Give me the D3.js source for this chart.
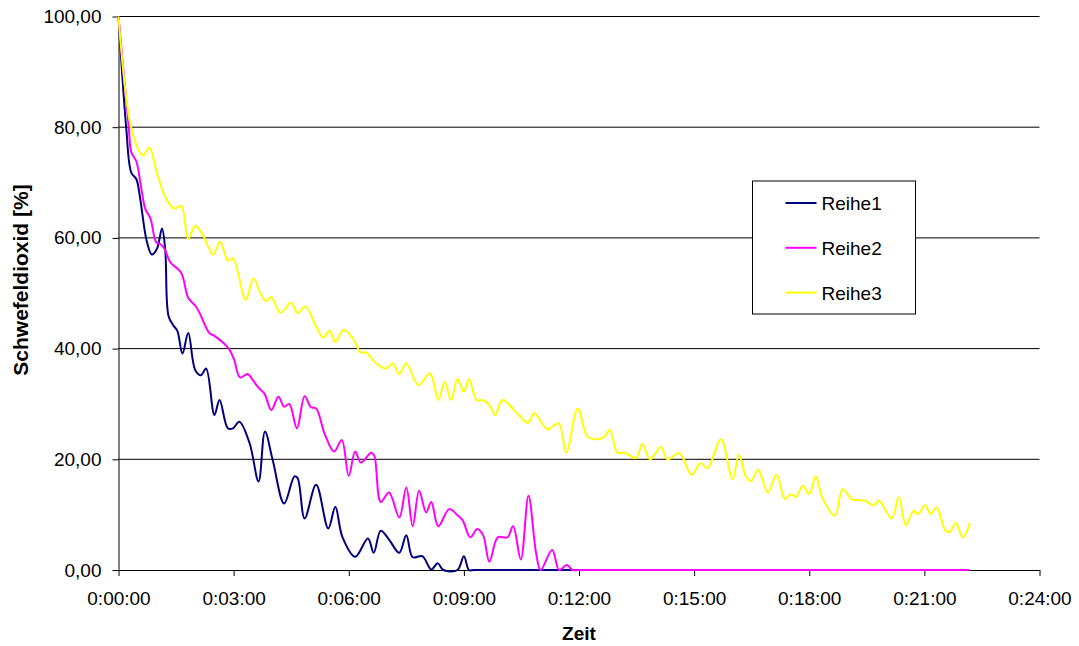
<!DOCTYPE html>
<html>
<head>
<meta charset="utf-8">
<script src="https://cdn.jsdelivr.net/npm/d3@7"></script>
<style>
    body { margin: 0; background: #fff; }
    svg { display: block; font-family: "Liberation Sans", Arial, sans-serif; }
    .tick text { font-size: 19px; fill: #000; }
    .axis-title { font-size: 19px; font-weight: bold; }
    .legend-text { font-size: 19px; }
</style>
</head>
<body>
<svg></svg>
<script>
// Zeit in Sekunden, Werte in %
let reihe1Zeit = [0, 12, 20, 28, 34, 44, 52, 60, 68, 73, 78, 85, 92, 100, 109, 120, 129, 137, 150, 158, 171, 179, 189, 205, 219, 229, 241, 259, 275, 280, 291, 309, 328, 339, 350, 370, 390, 399, 410, 423, 439, 450, 460, 475, 489, 499, 508, 530, 540, 548, 556, 600, 1330]
let reihe1Werte = [100, 80, 71.8, 70.6, 67, 59.5, 57, 58, 61.7, 58, 46, 44.3, 43.2, 39.1, 42.8, 36.1, 35.2, 36.4, 28, 30.7, 25.6, 25.6, 26.8, 22.9, 16, 25, 19.9, 12, 16.9, 16.6, 9.3, 15.4, 7.5, 11.4, 6, 2.4, 5.7, 3.1, 7.1, 5.5, 3.1, 6.3, 2.3, 2.5, 0.1, 1.2, 0, 0, 2.5, 0, 0, 0, 0]

let reihe2Zeit = [0, 16, 20, 28, 35, 42, 50, 59, 66, 72, 81, 98, 109, 121, 127, 142, 150, 173, 181, 190, 202, 210, 220, 228, 239, 250, 259, 267, 279, 291, 301, 309, 322, 337, 349, 360, 370, 379, 395, 400, 410, 423, 439, 450, 460, 470, 481, 489, 500, 517, 530, 538, 550, 561, 570, 580, 593, 608, 617, 629, 641, 653, 660, 678, 689, 701, 710, 720, 760, 1330]
let reihe2Werte = [100, 80, 75.5, 73.8, 69.4, 65.2, 63.5, 59.2, 58.8, 58, 55.6, 53.7, 49.2, 47.6, 46.4, 42.8, 42.3, 39.9, 37.9, 34.8, 35.4, 34.3, 32.8, 31.9, 28.9, 31.3, 29.5, 30, 25.6, 31.4, 29.4, 29.2, 24.7, 21.4, 23.5, 17, 21.4, 19.4, 21.2, 20.6, 12.3, 14, 9.5, 14.9, 7.9, 14.3, 10.4, 12.3, 7.9, 11, 9.9, 9, 5.9, 7.4, 6.3, 1.5, 5.9, 5.9, 7.9, 1.9, 13.4, 3, 0, 3.6, 0, 0.9, 0, 0, 0, 0]

let reihe3Zeit = [0, 20, 38, 48, 61, 74, 87, 98, 109, 120, 132, 148, 159, 171, 179, 199, 211, 222, 231, 239, 253, 270, 280, 292, 309, 320, 330, 339, 352, 366, 379, 387, 403, 418, 429, 439, 450, 469, 487, 500, 510, 520, 530, 540, 548, 560, 570, 580, 589, 600, 621, 640, 650, 671, 688, 700, 718, 733, 744, 759, 768, 780, 791, 809, 819, 831, 848, 858, 877, 896, 910, 921, 942, 960, 970, 981, 989, 1000, 1015, 1029, 1042, 1051, 1059, 1070, 1080, 1090, 1100, 1120, 1132, 1147, 1168, 1180, 1189, 1209, 1220, 1231, 1243, 1250, 1261, 1270, 1279, 1293, 1300, 1309, 1320, 1331]
let reihe3Werte = [100, 79.8, 74.9, 76.3, 71.4, 67.2, 65.3, 65.8, 59.8, 62.2, 60.5, 57, 59.3, 55.9, 56.3, 48.8, 52.7, 50, 48.6, 49.3, 46.5, 48.3, 46.4, 47.6, 44, 42, 43.2, 41.2, 43.4, 41.9, 39.3, 39.3, 37.3, 36.4, 37.3, 35.4, 37.3, 33.4, 35.5, 30.7, 34, 30.7, 34.5, 32.2, 34.5, 30.7, 30.7, 29.8, 28, 30.7, 28.6, 26.6, 28.3, 25.4, 26.5, 21.2, 29.2, 24.1, 23.6, 24, 25.3, 21.2, 21.2, 20.2, 22.8, 20, 22.2, 20, 21.1, 17.2, 19.3, 18.4, 23.6, 16.4, 20.8, 16.9, 16.1, 18.1, 14, 17.2, 12.8, 13.7, 13.2, 15.2, 13.7, 16.9, 13.2, 9.8, 14.6, 12.8, 12.5, 11.7, 12.5, 9.3, 13.2, 8.1, 10.7, 10.1, 11.7, 10.1, 11.3, 7.1, 6.9, 8.5, 5.9, 8.5]

let reihenNamen = ['Reihe1', 'Reihe2', 'Reihe3']
let reihenFarben = ['#000080', '#ff00ff', '#ffff00']

let xTicks = [0, 180, 360, 540, 720, 900, 1080, 1260, 1440]
let yTicks = [0, 20, 40, 60, 80, 100]

// Dimensions
let width = 1079
let height = 646
let margin = { top: 16.5, right: 39.5, bottom: 76, left: 118.5 }

let reihen = [
    { name: reihenNamen[0], color: reihenFarben[0], values: reihe1Zeit.map((t, i) => ({ t: t, v: reihe1Werte[i] })) },
    { name: reihenNamen[1], color: reihenFarben[1], values: reihe2Zeit.map((t, i) => ({ t: t, v: reihe2Werte[i] })) },
    { name: reihenNamen[2], color: reihenFarben[2], values: reihe3Zeit.map((t, i) => ({ t: t, v: reihe3Werte[i] })) }
]

// Scale
let scale = {
    x: d3.scaleLinear().domain([0, 1440]).range([margin.left, width - margin.right]),
    y: d3.scaleLinear().domain([0, 100]).range([height - margin.bottom, margin.top])
}

let pad = n => String(n).padStart(2, '0')
let zeitFormat = s => `${Math.floor(s / 3600)}:${pad(Math.floor(s % 3600 / 60))}:${pad(s % 60)}`
let deFormat = d3.formatLocale({ decimal: ',', thousands: '.', grouping: [3], currency: ['', ' €'] }).format('.2f')

let svg = d3.select('svg')
    .attr('width', width)
    .attr('height', height)

// Grid
svg.append('g')
    .selectAll('line')
    .data(yTicks.filter(d => d > 0))
    .join('line')
    .attr('x1', scale.x(0))
    .attr('x2', scale.x(1440))
    .attr('y1', d => scale.y(d))
    .attr('y2', d => scale.y(d))
    .attr('stroke', '#000')
    .attr('stroke-width', 1)

// X Axis
let xAxis = svg.append('g')
    .attr('transform', `translate(0,${scale.y(0)})`)
    .call(d3.axisBottom(scale.x).tickValues(xTicks).tickFormat(zeitFormat).tickSize(6).tickSizeOuter(0).tickPadding(16))

// Y Axis
let yAxis = svg.append('g')
    .attr('transform', `translate(${scale.x(0)},0)`)
    .call(d3.axisLeft(scale.y).tickValues(yTicks).tickFormat(deFormat).tickSize(6).tickSizeOuter(0).tickPadding(11))

xAxis.selectAll('path, line').attr('stroke', '#000')
yAxis.selectAll('path, line').attr('stroke', '#000')
xAxis.attr('font-family', null).attr('font-size', null)
yAxis.attr('font-family', null).attr('font-size', null)

// Lines
let line = d3.line()
    .x(d => scale.x(d.t))
    .y(d => scale.y(d.v))
    .curve(d3.curveCatmullRom.alpha(0.5))

svg.append('g')
    .selectAll('path')
    .data(reihen)
    .join('path')
    .attr('d', d => line(d.values))
    .attr('fill', 'none')
    .attr('stroke', d => d.color)
    .attr('stroke-width', 2)
    .attr('stroke-linejoin', 'round')

// Legend
let legend = svg.append('g')
    .attr('transform', 'translate(752.5,181)')

legend.append('rect')
    .attr('width', 163)
    .attr('height', 133)
    .attr('fill', '#fff')
    .attr('stroke', '#000')
    .attr('stroke-width', 1)

let item = legend.selectAll('.item')
    .data(reihen)
    .join('g')
    .attr('class', 'item')
    .attr('transform', (d, i) => `translate(0,${22 + i * 44.8})`)

item.append('line')
    .attr('x1', 33)
    .attr('x2', 64)
    .attr('stroke', d => d.color)
    .attr('stroke-width', 2)

item.append('text')
    .attr('class', 'legend-text')
    .attr('x', 69)
    .attr('y', 7)
    .text(d => d.name)

// X label
svg.append('text')
    .attr('class', 'axis-title')
    .attr('x', (scale.x(0) + scale.x(1440)) / 2)
    .attr('y', 640)
    .attr('text-anchor', 'middle')
    .text('Zeit')

// Y label
svg.append('text')
    .attr('class', 'axis-title')
    .attr('transform', `translate(28,280) rotate(-90)`)
    .attr('text-anchor', 'middle')
    .style('font-size', '21px')
    .text('Schwefeldioxid [%]')
</script>
</body>
</html>
